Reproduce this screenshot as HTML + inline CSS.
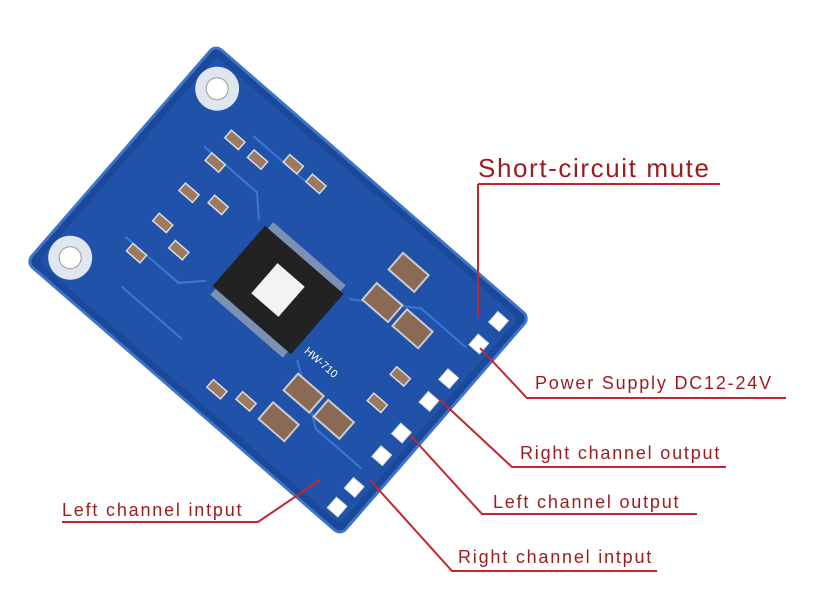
<!DOCTYPE html>
<html><head><meta charset="utf-8"><style>
html,body{margin:0;padding:0;background:#fff;}
svg{display:block;}
text{font-family:"Liberation Sans",sans-serif;}
</style></head><body>
<svg width="813" height="601" viewBox="0 0 813 601" xmlns="http://www.w3.org/2000/svg">
<rect width="813" height="601" fill="#fff"/>
<g transform="translate(278,290) rotate(41)">
  <rect x="-208" y="-144" width="416" height="288" rx="8" fill="#1b4899" stroke="#3d73c9" stroke-width="3"/>
  <rect x="-200" y="-136" width="400" height="272" rx="6" fill="#1f52a8"/>
  <circle cx="-178" cy="-112" r="22" fill="#e0e6ee"/><circle cx="-178" cy="-112" r="11" fill="#fff" stroke="#999"/>
  <circle cx="-178" cy="112" r="22" fill="#e0e6ee"/><circle cx="-178" cy="112" r="11" fill="#fff" stroke="#999"/>
  <g stroke="#3a78d6" stroke-width="2" fill="none">
    <path d="M-150,-60 L-80,-60 L-60,-40"/><path d="M-150,60 L-80,60 L-60,40"/>
    <path d="M60,-40 L120,-80 L180,-80"/><path d="M60,40 L120,80 L180,80"/>
    <path d="M-120,-100 L-40,-100"/><path d="M-120,100 L-40,100"/>
  </g>
  <rect x="-52" y="-40" width="104" height="80" fill="#222"/>
  <g fill="#bbb">
    <rect x="-48" y="-48" width="96" height="8" opacity=".6"/>
    <rect x="-48" y="40" width="96" height="8" opacity=".6"/>
  </g>
  <rect x="-18" y="-20" width="36" height="40" fill="#f3f3f3"/>
  <g fill="#8a6a55" stroke="#ccc" stroke-width="2">
    <rect x="70" y="-110" width="34" height="22"/><rect x="110" y="-70" width="34" height="22"/>
    <rect x="70" y="-70" width="34" height="22"/><rect x="70" y="88" width="34" height="22"/>
    <rect x="110" y="50" width="34" height="22"/><rect x="70" y="50" width="34" height="22"/>
  </g>
  <g fill="#9b7a60" stroke="#ddd" stroke-width="1.5">
    <rect x="-140" y="-90" width="18" height="10"/><rect x="-110" y="-90" width="18" height="10"/>
    <rect x="-140" y="-60" width="18" height="10"/><rect x="-110" y="-30" width="18" height="10"/>
    <rect x="-140" y="-20" width="18" height="10"/><rect x="-140" y="20" width="18" height="10"/>
    <rect x="-110" y="30" width="18" height="10"/><rect x="-140" y="60" width="18" height="10"/>
    <rect x="-80" y="-110" width="18" height="10"/><rect x="-50" y="-110" width="18" height="10"/>
    <rect x="140" y="-20" width="18" height="10"/><rect x="140" y="15" width="18" height="10"/>
    <rect x="40" y="100" width="18" height="10"/><rect x="10" y="110" width="18" height="10"/>
  </g>
  <g fill="#fff" stroke="#ddd">
    <rect x="180" y="-128" width="14" height="14"/><rect x="180" y="-98" width="14" height="14"/>
    <rect x="180" y="-52" width="14" height="14"/><rect x="180" y="-22" width="14" height="14"/>
    <rect x="180" y="20" width="14" height="14"/><rect x="180" y="50" width="14" height="14"/>
    <rect x="180" y="92" width="14" height="14"/><rect x="180" y="118" width="14" height="14"/>
  </g>
  <g fill="#fff" font-size="11">
    <text x="60" y="30">HW-710</text>
  </g>
</g>
<g fill="#9a1c1f" font-size="18" letter-spacing="1.8">
  <text x="478" y="177" font-size="26" letter-spacing="1.6">Short-circuit mute</text>
  <text x="535" y="389">Power Supply DC12-24V</text>
  <text x="520" y="459">Right channel output</text>
  <text x="493" y="508">Left channel output</text>
  <text x="458" y="563">Right channel intput</text>
  <text x="62" y="516">Left channel intput</text>
</g>
<g stroke="#c1272d" stroke-width="2" fill="none">
  <path d="M478,184 L720,184"/><path d="M478,184 L478,318"/>
  <path d="M480,348 L527,398 L786,398"/>
  <path d="M440,400 L512,467 L726,467"/>
  <path d="M410,435 L482,514 L697,514"/>
  <path d="M370,480 L452,571 L657,571"/>
  <path d="M62,522 L258,522 L320,480"/>
</g>
</svg>
</body></html>
